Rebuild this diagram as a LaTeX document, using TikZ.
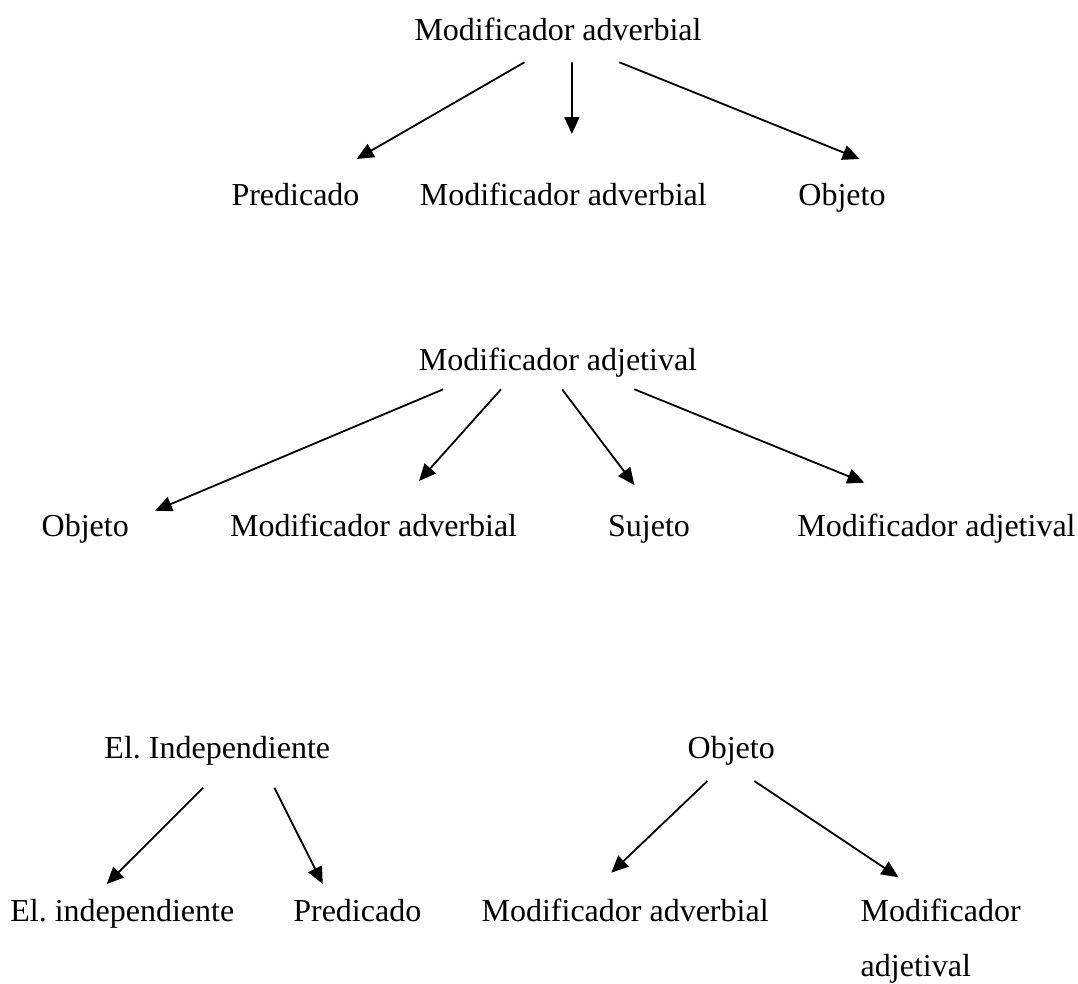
\documentclass[tikz,border=0pt]{standalone}
\usepackage{fontspec}
\setmainfont{Liberation Serif}
\usetikzlibrary{arrows.meta,calc}
\tikzset{
  lbl/.style={inner sep=0pt, outer sep=0pt, anchor=base, font=\fontsize{32}{55}\selectfont},
  arr/.style={line width=1.8pt, -{Triangle[length=17pt,width=15pt]}},
}
\frenchspacing
\begin{document}
\frenchspacing
\begin{tikzpicture}[x=1pt,y=-1pt]
\useasboundingbox (0,0) rectangle (1078,983);
% Tree 1
\node[lbl] (p1) at (558,40.7) {Modificador adverbial};
\node[lbl] (c11) at (295.5,205.7) {Predicado};
\node[lbl] (c12) at (563.3,205.7) {Modificador adverbial};
\node[lbl] (c13) at (842,205.7) {Objeto};
\draw[arr] ($(p1.base)+(-33.6,21.6)$) -- ($(c11.base)+(61.2,-46.7)$);
\draw[arr] ($(p1.base)+(13.9,21.6)$) -- ($(c12.base)+(8.6,-71.7)$);
\draw[arr] ($(p1.base)+(61.4,21.6)$) -- ($(c13.base)+(17.6,-46.7)$);
% Tree 2
\node[lbl] (p2) at (558,370.7) {Modificador adjetival};
\node[lbl] (c21) at (85.2,536.7) {Objeto};
\node[lbl] (c22) at (373.6,536.7) {Modificador adverbial};
\node[lbl] (c23) at (649,536.7) {Sujeto};
\node[lbl] (c24) at (936.5,536.7) {Modificador adjetival};
\draw[arr] ($(p2.base)+(-114.8,18.6)$) -- ($(c21.base)+(69.8,-26)$);
\draw[arr] ($(p2.base)+(-57,18.6)$) -- ($(c22.base)+(45.4,-55.7)$);
\draw[arr] ($(p2.base)+(4.1,18.6)$) -- ($(c23.base)+(-14.6,-51.7)$);
\draw[arr] ($(p2.base)+(76.4,18.6)$) -- ($(c24.base)+(-72.1,-54)$);
% Tree 3
\node[lbl] (p3) at (217.3,758.3) {El. Independiente};
\node[lbl] (c31) at (122.3,921.7) {El. independiente};
\node[lbl] (c32) at (357.3,921.7) {Predicado};
\draw[arr] ($(p3.base)+(-14.1,29.4)$) -- ($(c31.base)+(-15.6,-37.7)$);
\draw[arr] ($(p3.base)+(57.1,29.4)$) -- ($(c32.base)+(-34.6,-37.7)$);
% Tree 4
\node[lbl] (p4) at (731.2,758.3) {Objeto};
\node[lbl] (c33) at (625.1,921.7) {Modificador adverbial};
\node[lbl, anchor=base west, align=left] (c34) at (860.7,976.7) {Modificador\\adjetival};
\draw[arr] ($(p4.base)+(-23.8,22.7)$) -- ($(c33.base)+(-13.8,-49)$);
\draw[arr] ($(p4.base)+(23.1,22.7)$) -- ($(c34.base west)+(37.8,-99.4)$);
\end{tikzpicture}
\end{document}
